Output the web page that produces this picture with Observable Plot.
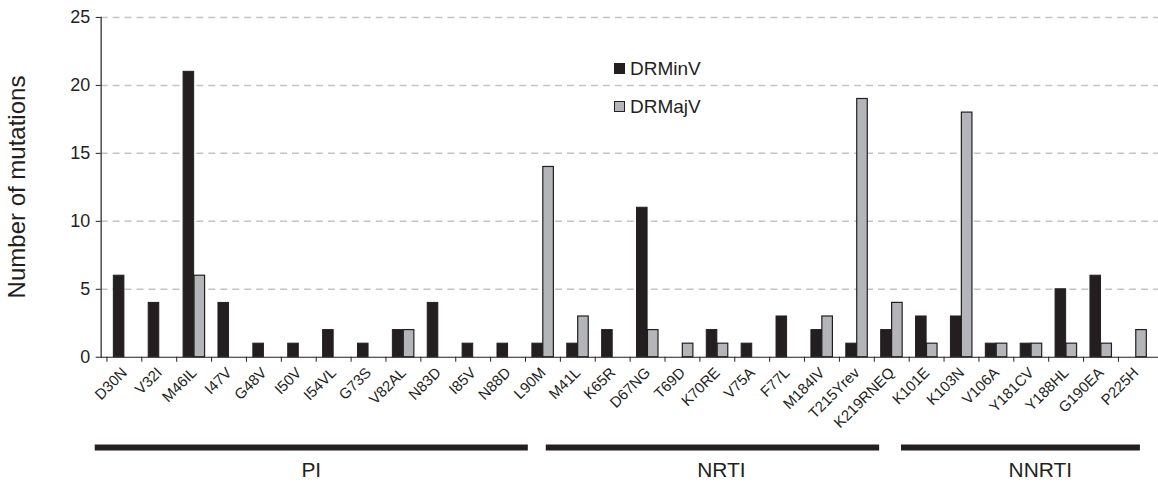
<!DOCTYPE html>
<html><head><meta charset="utf-8">
<script src="https://cdn.jsdelivr.net/npm/d3@7"></script>
<script src="https://cdn.jsdelivr.net/npm/@observablehq/plot@0.6"></script>
<style>
body{margin:0;background:#fff;overflow:hidden;font-family:"Liberation Sans",Arial,sans-serif;}
#wrap{position:relative;width:1158px;height:483px;overflow:hidden;}
#wrap svg{display:block;}
.leg{position:absolute;font-size:19px;color:#231f20;display:flex;align-items:center;line-height:1;}
.leg i{display:inline-block;width:9px;height:9px;border:1px solid #231f20;margin-right:5px;}
.ytitle{position:absolute;left:17px;top:187px;transform:translate(-50%,-50%) rotate(-90deg);
  font-size:24px;color:#231f20;white-space:nowrap;line-height:1;}
</style></head><body><div id="wrap"></div>
<script>
const categories = ["D30N","V32I","M46IL","I47V","G48V","I50V","I54VL","G73S","V82AL","N83D","I85V","N88D","L90M",
  "M41L","K65R","D67NG","T69D","K70RE","V75A","F77L","M184IV","T215Yrev","K219RNEQ",
  "K101E","K103N","V106A","Y181CV","Y188HL","G190EA","P225H"];
const drMinV = [6,4,21,4,1,1,2,1,2,4,1,1,1, 1,2,11,0,2,1,3,2,1,2, 3,3,1,1,5,6,0];
const drMajV = [0,0,6,0,0,0,0,0,2,0,0,0,14, 3,0,2,1,1,0,0,3,19,4, 1,18,1,1,1,1,2];
const seriesNames = ["DRMinV","DRMajV"];
const yTicks = [0,5,10,15,20,25];
const yTitle = "Number of mutations";
const groups = ["PI","NRTI","NNRTI"];
const groupStart = [-0.17, 12.63, 22.71];
const groupEnd = [12.12, 22.09, 29.49];
const groupLabelAt = [5.96, 17.6, 26.65];

const W = 1162, ML = 101, MR = 0;
const step = (W - ML - MR) / categories.length;
const ink = "#231f20", grey = "#b3b5b8";

const rows = categories.map((c, i) => ({cat: c, min: drMinV[i], maj: drMajV[i]}));

const main = Plot.plot({
  width: W, height: 440,
  marginLeft: ML, marginRight: MR, marginTop: 17, marginBottom: 82,
  style: {fontFamily: "Liberation Sans, Arial, sans-serif", color: ink},
  x: {domain: categories, padding: 0},
  y: {domain: [0, 25]},
  marks: [
    Plot.ruleY(yTicks.filter(d => d > 0), {stroke: "#c4c4c4", strokeWidth: 1.5, strokeDasharray: "7,5"}),
    Plot.barY(rows.filter(d => d.min > 0), {x: "cat", y: "min", fill: ink, stroke: ink, strokeWidth: 1,
      insetLeft: step * 0.19, insetRight: step * 0.5}),
    Plot.barY(rows.filter(d => d.maj > 0), {x: "cat", y: "maj", fill: grey, stroke: ink, strokeWidth: 1.2,
      insetLeft: step * 0.5, insetRight: step * 0.19}),
    Plot.ruleY([0], {stroke: ink, strokeWidth: 1.2}),
    Plot.frame({anchor: "left", stroke: ink, strokeWidth: 1.2}),
    Plot.axisY({ticks: yTicks, tickSize: 5, tickPadding: 6, fontSize: 18, label: null, stroke: ink}),
    Plot.axisX({tickSize: 5, tickFormat: () => "", dx: -step / 2, label: null, stroke: ink}),
    Plot.axisX({tickSize: 0, tickPadding: 13, tickRotate: -45, fontSize: 15, label: null})
  ]
});

const grows = groups.map((g, i) => ({g, s: groupStart[i], e: groupEnd[i], m: groupLabelAt[i]}));
const bottom = Plot.plot({
  width: W, height: 43, marginLeft: ML, marginRight: MR, marginTop: 0, marginBottom: 0,
  style: {fontFamily: "Liberation Sans, Arial, sans-serif", color: ink},
  x: {domain: [0, categories.length], axis: null},
  y: {domain: [0, 1], range: [39, 9], axis: null},
  marks: [
    Plot.ruleY(grows, {x1: "s", x2: "e", y: () => 1, stroke: ink, strokeWidth: 6}),
    Plot.text(grows, {x: "m", y: () => 0, text: "g", fontSize: 21, fill: ink, lineAnchor: "bottom"})
  ]
});

const wrap = document.getElementById("wrap");
wrap.append(main, bottom);
const yt = document.createElement("div");
yt.className = "ytitle"; yt.textContent = yTitle;
wrap.append(yt);
const leg = [[seriesNames[0], ink, 59], [seriesNames[1], grey, 97]];
for (const [name, col, top] of leg) {
  const d = document.createElement("div");
  d.className = "leg"; d.style.left = "614px"; d.style.top = top + "px";
  const sw = document.createElement("i"); sw.style.background = col;
  d.append(sw, document.createTextNode(name));
  wrap.append(d);
}
</script></body></html>
